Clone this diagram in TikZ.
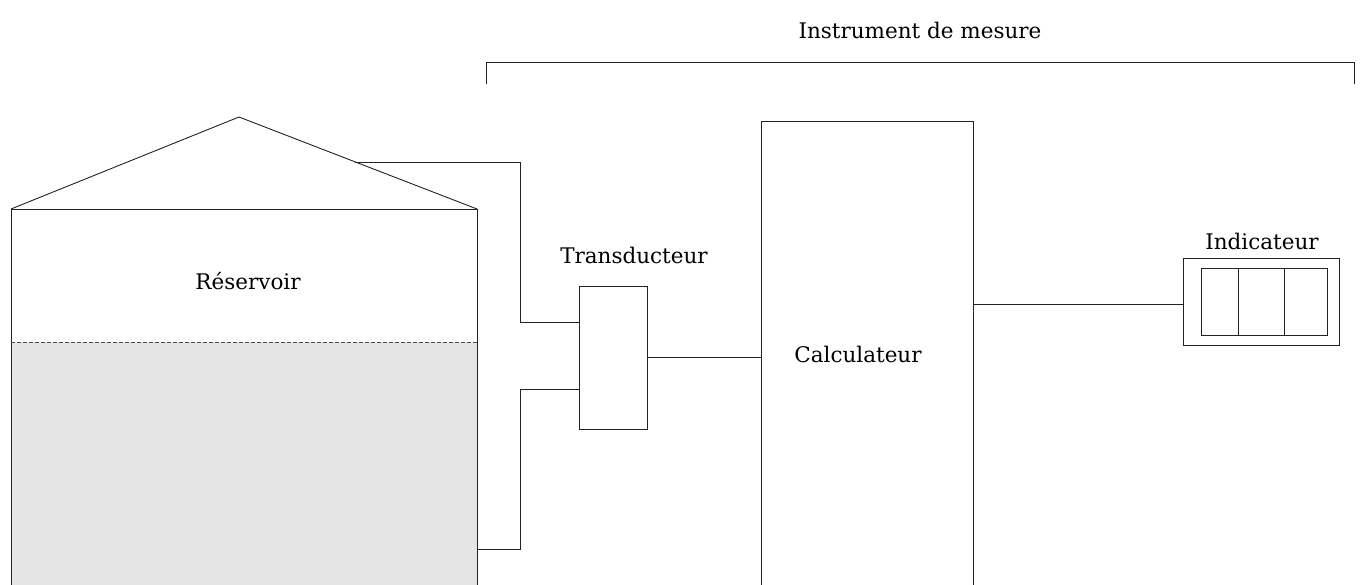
\documentclass[tikz,border=0pt]{standalone}
\usepackage{fontspec}
\setmainfont{DejaVu Serif}
\usetikzlibrary{calc}
\definecolor{liquid}{HTML}{E5E5E5}
\definecolor{wire}{HTML}{222222}
\begin{document}
\begin{tikzpicture}[x=1pt,y=-1pt,
  line width=0.9pt, color=wire,
  lbl/.style={font=\fontsize{21.5}{26}\selectfont, inner sep=0pt, text=black},
  unit/.style={draw=wire, fill=white, inner sep=0pt, line width=0.9pt},
  level/.style={draw=wire!80, dash pattern=on 4pt off 2pt, line width=0.9pt}]
\useasboundingbox (0,0) rectangle (1362,585);

% tank: liquid, walls, roof and liquid level
\fill[liquid] (11,342) rectangle (477,590);
\coordinate (eaveL) at (11,209);
\coordinate (eaveR) at (477,209);
\coordinate (peak) at (239,117);
\draw (11,590) -- (eaveL) -- (eaveR) -- (477,590);
\draw (eaveL) -- (peak) -- (eaveR);
\draw[level] (11,342) -- (477,342);
\node[lbl] (tank) at (248,281) {Réservoir};

% pressure taps
\coordinate (tapA) at ($(peak)!0.489!(eaveR)$);
\coordinate (tapB) at (477,549);
\coordinate (j1) at (520,322);
\coordinate (j2) at (520,389);

% transducer
\node[unit, minimum width=68pt, minimum height=143pt] (trans) at (613,357.5) {};
\node[lbl] (translbl) at (634,255) {Transducteur};

% calculator
\node[unit, minimum width=212pt, minimum height=479pt] (calc) at (867,360.5) {};
\node[lbl] (calclbl) at (858,354) {Calculateur};

% indicator with three digit cells
\node[unit, minimum width=156pt, minimum height=87pt] (ind) at (1261,301.5) {};
\node[unit, minimum width=126pt, minimum height=67pt] (disp) at (1264,301.5) {};
\draw (1238,268) -- (1238,335);
\draw (1284,268) -- (1284,335);
\node[lbl] (indlbl) at (1262,241) {Indicateur};

% connectors
\draw (tapA) -| (j1) -- (j1 -| trans.west);
\draw (tapB) -| (j2) -- (j2 -| trans.west);
\draw (trans.east) -- (trans.east -| calc.west);
\coordinate (c1) at (973,304);
\draw (c1) -- (c1 -| ind.west);

% bracket spanning the measuring instrument
\coordinate (brL) at (486,84);
\coordinate (brR) at (1354,84);
\draw (brL) -- (486,62) -- (1354,62) -- (brR);
\node[lbl] (instr) at (920,30) {Instrument de mesure};
\end{tikzpicture}
\end{document}
